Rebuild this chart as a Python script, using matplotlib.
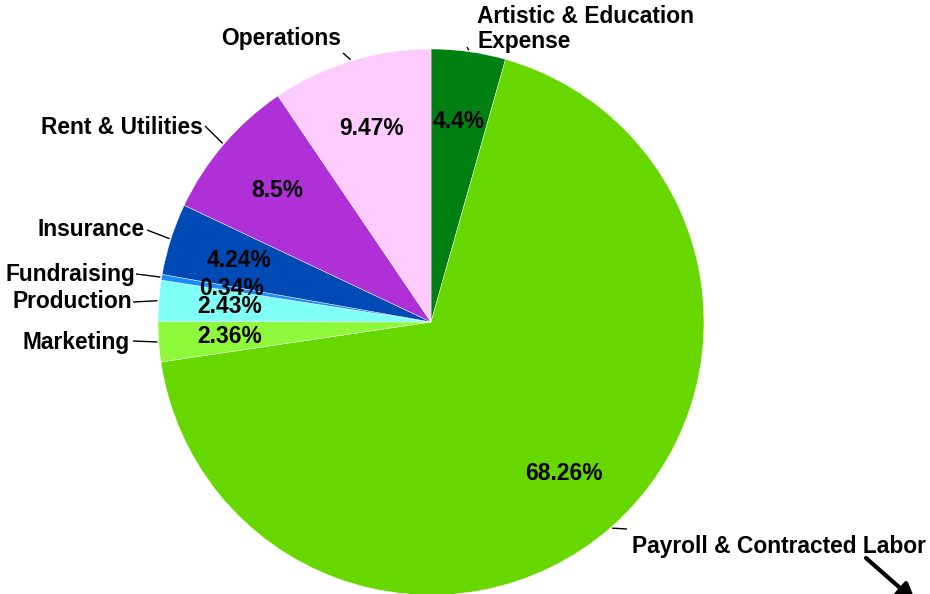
import numpy as np
import matplotlib
matplotlib.use("Agg")
import matplotlib.pyplot as plt

plt.rcParams['font.family'] = ['Liberation Sans', 'DejaVu Sans']

# ---- data ----
categories = ["Artistic & Education\nExpense", "Payroll & Contracted Labor", "Marketing",
              "Production", "Fundraising", "Insurance", "Rent & Utilities", "Operations"]
values = [4.4, 68.26, 2.36, 2.43, 0.34, 4.24, 8.5, 9.47]
colors = ["#008012", "#66d800", "#8ef83a", "#7ffff5", "#1a8cff", "#004ab5", "#b030d8", "#fdcbfd"]

# ---- layout (pixel coordinates, y from top) ----
W, H = 930, 594
CX, CY, R = 431, 322, 273
FS = 16.4
# label text anchor (x, y, ha) and leader-line end point
label_layout = {
    "Artistic & Education\nExpense": ((477, 29, "left"), (467, 47)),
    "Payroll & Contracted Labor": ((632, 547, "left"), (627, 529)),
    "Marketing": ((130, 343, "right"), (133, 341)),
    "Production": ((132, 302, "right"), (133, 302)),
    "Fundraising": ((135, 274, "right"), (136, 274)),
    "Insurance": ((145, 230, "right"), (147, 230)),
    "Rent & Utilities": ((203, 127, "right"), (205, 126)),
    "Operations": ((341, 38, "right"), (343, 53)),
}

def Y(y):
    return H - y

fig = plt.figure(figsize=(W / 100, H / 100), dpi=100)
ax = fig.add_axes([0, 0, 1, 1])

def fmt(p):
    return f"{round(p, 2):g}%"

wedges, texts, autotexts = ax.pie(
    values, colors=colors, startangle=90, counterclock=False,
    center=(CX, Y(CY)), radius=R, autopct=fmt, pctdistance=0.74,
    wedgeprops=dict(edgecolor="white", linewidth=0.3),
    textprops=dict(fontsize=FS, fontweight="bold", color="black"),
)

for w, cat in zip(wedges, categories):
    mid = np.deg2rad((w.theta1 + w.theta2) / 2)
    ex, ey = CX + R * 1.005 * np.cos(mid), Y(CY) + R * 1.005 * np.sin(mid)
    (tx, ty, ha), (lx, ly) = label_layout[cat]
    ax.plot([ex, lx], [ey, Y(ly)], color="black", lw=1.0, solid_capstyle="butt")
    ax.text(tx, Y(ty), cat, ha=ha, va="center", fontsize=FS, fontweight="bold",
            linespacing=1.15)

# arrow at bottom right
ax.annotate("", xy=(916, Y(602)), xytext=(866, Y(558)), annotation_clip=False,
            arrowprops=dict(arrowstyle="-|>,head_width=0.55,head_length=1.1",
                            color="black", lw=3, shrinkA=0, shrinkB=0))

ax.set_xlim(0, W)
ax.set_ylim(0, H)
ax.set_aspect("equal")
ax.set_axis_off()

fig.savefig("out.png", dpi=100)
